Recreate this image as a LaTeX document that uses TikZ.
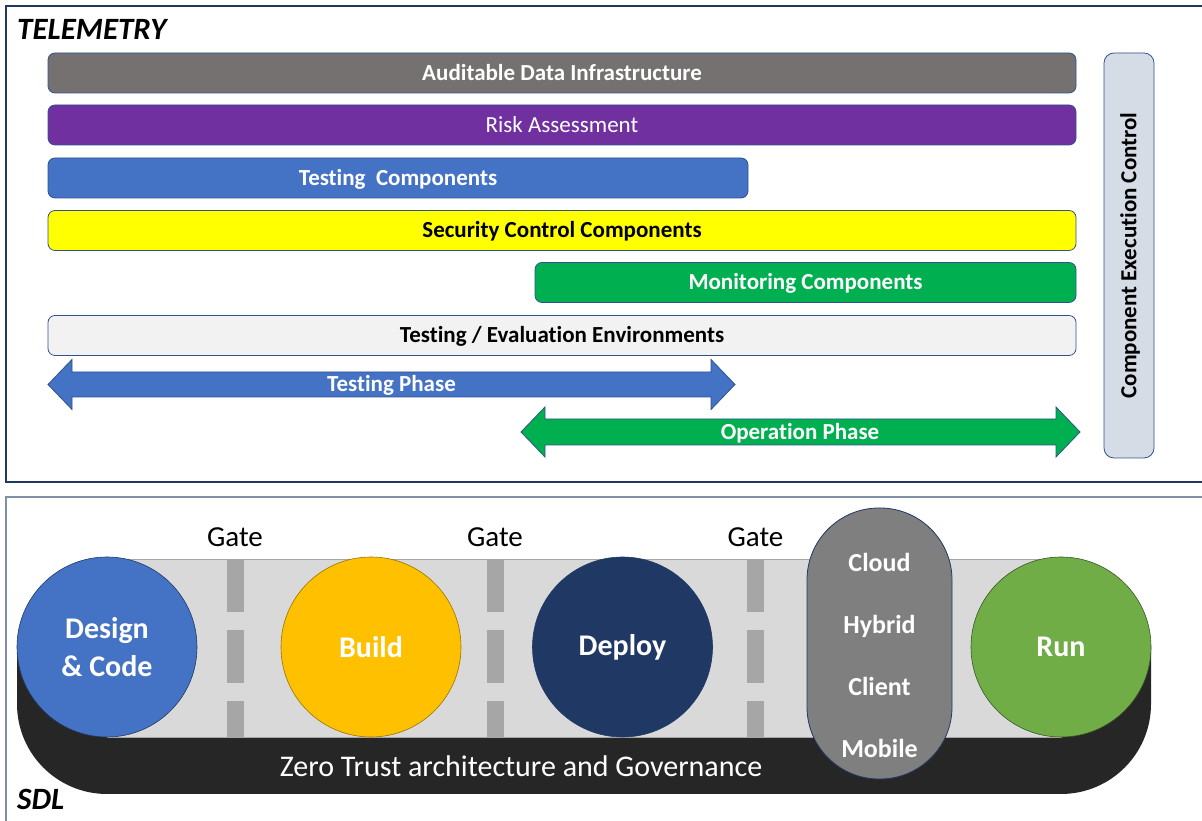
\documentclass[tikz,border=0pt]{standalone}
\usepackage{fontspec}
\setmainfont{Carlito}[Ligatures=NoCommon]
\definecolor{auditgray}{HTML}{767171}
\definecolor{riskpurple}{HTML}{7030A0}
\definecolor{testblue}{HTML}{4472C4}
\definecolor{secyellow}{HTML}{FFFF00}
\definecolor{mongreen}{HTML}{00B050}
\definecolor{envgray}{HTML}{F2F2F2}
\definecolor{barline}{HTML}{2F528F}
\definecolor{execfill}{HTML}{D6DCE5}
\definecolor{panelnavy}{HTML}{203864}
\definecolor{panelgray}{HTML}{7F8FA6}
\definecolor{bandgray}{HTML}{D9D9D9}
\definecolor{gategray}{HTML}{A6A6A6}
\definecolor{ztblack}{HTML}{262626}
\definecolor{buildgold}{HTML}{FFC000}
\definecolor{rungreen}{HTML}{70AD47}
\definecolor{pillgray}{HTML}{7F7F7F}
\tikzstyle{bar}=[rectangle, draw=barline, line width=0.8pt, rounded corners=7pt, minimum height=40pt, inner sep=0pt, text height=18pt, text depth=3.5pt, text=white, font=\fontsize{23}{27}\selectfont\bfseries]
\tikzstyle{phase}=[draw=barline, line width=0.8pt]
\tikzstyle{phasetext}=[text=white, text height=18pt, text depth=3.5pt, font=\fontsize{23}{27}\selectfont\bfseries, inner sep=0pt]
\tikzstyle{stage}=[circle, line width=0.6pt, minimum size=180pt, inner sep=0pt, align=center, text=white, font=\fontsize{30}{38}\selectfont\bfseries]
\tikzstyle{gatebar}=[gategray, line width=17pt, dash pattern=on 53pt off 18pt]
\tikzstyle{gatelabel}=[anchor=base, inner sep=0pt, font=\fontsize{29}{34}\selectfont]
\tikzstyle{paneltitle}=[anchor=base west, inner sep=0pt, font=\fontsize{31}{36}\selectfont\bfseries\itshape]

\begin{document}
\begin{tikzpicture}[x=1pt,y=1pt]
  \useasboundingbox (0,0) rectangle (1202,821);
  \draw[panelnavy, line width=1.5pt] (6,339) rectangle (1215,815);
  \draw[panelgray, line width=2pt] (6,-10) rectangle (1215,324);
  \node[paneltitle] (telemetry) at (17,781) {TELEMETRY};
  \node[paneltitle] (sdl) at (17,11) {SDL};

  \node[bar, fill=auditgray, minimum width=1028pt] (audit) at (562,748) {Auditable Data Infrastructure};
  \node[bar, fill=riskpurple, minimum width=1028pt, font=\fontsize{23}{27}\selectfont] (risk) at (562,696) {Risk Assessment};
  \node[bar, fill=testblue, minimum width=700pt] (testcomp) at (398,643) {Testing\ \ Components};
  \node[bar, fill=secyellow, text=black, minimum width=1028pt] (seccomp) at (562,590.5) {Security Control Components};
  \node[bar, fill=mongreen, minimum width=541pt] (moncomp) at (805.5,538.5) {Monitoring Components};
  \node[bar, fill=envgray, text=black, minimum width=1028pt] (testenv) at (562,485.5) {Testing / Evaluation Environments};
  \node[bar, fill=execfill, text=black, rounded corners=10pt, rotate=90, minimum width=405pt, minimum height=50pt] (execctl) at (1129,565.5) {Component Execution Control};

  \draw[phase, fill=testblue] (48,436.5) -- (72,461.5) -- (72,449) -- (711,449) -- (711,461.5) -- (735,436.5)
    -- (711,411.5) -- (711,424) -- (72,424) -- (72,411.5) -- cycle;
  \node[phasetext] (testphase) at (391.5,436.5) {Testing Phase};
  \draw[phase, fill=mongreen] (521,389) -- (545,414) -- (545,402) -- (1056,402) -- (1056,414) -- (1080,389)
    -- (1056,364) -- (1056,376) -- (545,376) -- (545,364) -- cycle;
  \node[phasetext] (opphase) at (800,389) {Operation Phase};

  \fill[ztblack] (17,174) -- (17,117) arc[start angle=180, end angle=270, radius=90] -- (1061,27)
    arc[start angle=270, end angle=360, radius=90] -- (1151,174) -- cycle;
  \node[anchor=base, inner sep=0pt, text=white, font=\fontsize{30}{36}\selectfont] (zerotrust) at (521,44) {Zero Trust architecture and Governance};
  \draw[gategray, line width=0.8pt, fill=bandgray] (107,84) rectangle (1061,262);

  \foreach \x/\n in {235/gateA, 495/gateB, 755.5/gateC}{
    \draw[gatebar] (\x,262) -- (\x,84);
    \node[gatelabel] (\n) at (\x,274) {Gate};
  }

  \node[stage, fill=testblue, draw=panelnavy] (design) at (107,174) {Design\\\& Code};
  \node[stage, fill=buildgold, draw=buildgold!60!black] (build) at (371,174) {Build};
  \node[stage, fill=panelnavy, draw=panelnavy] (deploy) at (622.5,174) {Deploy};
  \node[stage, fill=rungreen, draw=rungreen!50!black] (run) at (1061,174) {Run};

  \node[rectangle, rounded corners=72pt, fill=pillgray, draw=panelnavy, line width=0.8pt, minimum width=145pt, minimum height=271pt] (hosts) at (879.5,177.5) {};
  \node[align=center, inner sep=0pt, text=white, font=\fontsize{26}{62}\selectfont\bfseries] (hostnames) at (879.5,166) {Cloud\\Hybrid\\Client\\Mobile};
\end{tikzpicture}
\end{document}
